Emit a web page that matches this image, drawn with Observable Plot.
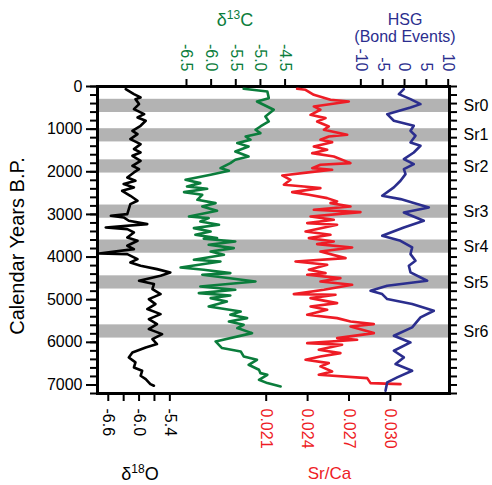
<!DOCTYPE html>
<html>
<head>
<meta charset="utf-8">
<script src="https://cdn.jsdelivr.net/npm/d3@7"></script>
<script src="https://cdn.jsdelivr.net/npm/@observablehq/plot@0.6"></script>
<style>
  html, body { margin: 0; padding: 0; background: #fff; }
  #chart { position: relative; width: 492px; height: 485px; overflow: hidden; font-family: "Liberation Sans", Arial, sans-serif; }
  #chart svg { position: absolute; left: 0; top: 0; }
</style>
</head>
<body>
<div id="chart"></div>
<script>
// ---------- data ----------
const bandNames = ["Sr0", "Sr1", "Sr2", "Sr3", "Sr4", "Sr5", "Sr6"];
const bandStart = [300, 990, 1720, 2780, 3600, 4440, 5590];
const bandEnd   = [610, 1300, 2030, 3090, 3910, 4750, 5900];

// δ18O (black)
const d18Years = [62,179,257,296,413,530,648,726,804,921,1039,1117,1234,1351,1468,1547,1625,1742,1859,1937,2016,2133,2211,2289,2367,2446,2563,2680,2758,2876,2993,3032,3071,3149,3227,3306,3345,3423,3540,3618,3735,3814,3915,3931,4048,4126,4204,4283,4361,4439,4556,4634,4752,4869,4986,5103,5220,5338,5455,5572,5690,5807,5924,6041,6120,6237,6354,6471,6589,6667,6784,6862,6979,7018];
const d18Values = [-6.26,-6.10,-5.97,-6.07,-6.00,-6.10,-5.90,-6.03,-5.87,-5.97,-6.13,-6.03,-6.17,-5.97,-6.10,-5.97,-6.13,-5.97,-6.13,-6.00,-6.10,-6.23,-6.07,-6.30,-6.10,-6.33,-6.17,-6.03,-6.17,-6.20,-6.23,-6.55,-6.30,-6.20,-5.84,-6.65,-6.23,-6.10,-6.23,-6.03,-6.23,-6.10,-6.78,-6.23,-6.03,-6.17,-5.97,-5.65,-5.39,-5.58,-6.00,-5.71,-5.74,-5.58,-5.81,-5.68,-5.84,-5.58,-5.81,-5.65,-5.81,-5.55,-5.74,-5.65,-5.87,-6.13,-6.20,-6.07,-6.10,-5.94,-5.97,-5.87,-5.78,-5.71];

// δ13C (green)
const d13Years = [54,116,273,351,546,703,820,937,1015,1094,1172,1250,1328,1406,1523,1641,1719,1797,1914,1977,2071,2188,2266,2344,2399,2477,2540,2657,2735,2813,2915,3048,3087,3165,3243,3321,3399,3478,3556,3572,3634,3712,3790,3869,3947,4064,4103,4244,4298,4377,4416,4572,4689,4767,4846,4900,4963,5041,5158,5276,5354,5432,5510,5588,5666,5784,5979,6135,6214,6331,6409,6526,6643,6722,6761,6878,6956,7034];
const d13Values = [-5.34,-4.86,-4.83,-5.07,-4.73,-4.90,-4.83,-5.00,-5.10,-5.00,-5.30,-5.20,-5.47,-5.24,-5.51,-5.24,-5.51,-5.61,-5.81,-5.64,-6.01,-6.52,-6.22,-6.49,-6.08,-6.55,-6.18,-6.28,-5.91,-6.18,-5.88,-6.45,-6.05,-6.22,-5.84,-6.35,-6.01,-6.32,-5.88,-6.15,-5.51,-6.05,-5.54,-6.01,-5.74,-6.35,-5.81,-6.62,-6.15,-5.61,-6.18,-5.10,-6.22,-5.51,-6.25,-5.61,-6.01,-5.68,-6.05,-5.40,-5.61,-5.27,-5.64,-5.34,-5.47,-5.17,-5.91,-5.78,-5.40,-5.34,-5.07,-5.24,-5.03,-5.00,-4.86,-5.03,-4.86,-4.59];

// Sr/Ca (red)
const srYears = [54,77,195,312,351,468,546,664,742,820,937,1015,1133,1172,1250,1305,1406,1484,1563,1641,1797,1836,1914,1953,2008,2086,2188,2305,2344,2383,2477,2540,2618,2696,2735,2813,2891,2946,3048,3126,3204,3243,3399,3478,3556,3634,3697,3775,3869,4025,4103,4181,4298,4377,4416,4494,4572,4650,4767,4869,4885,4963,5080,5158,5236,5354,5432,5510,5573,5627,5784,5901,5940,6018,6057,6174,6253,6331,6409,6487,6565,6683,6761,6839,6956,6980];
const srValues = [0.02324,0.02385,0.02445,0.02566,0.02699,0.02445,0.02493,0.02421,0.02530,0.02469,0.02554,0.02518,0.02687,0.02554,0.02493,0.02578,0.02445,0.02542,0.02433,0.02590,0.02711,0.02493,0.02433,0.02578,0.02421,0.02216,0.02276,0.02228,0.02373,0.02493,0.02288,0.02409,0.02542,0.02614,0.02566,0.02711,0.02445,0.02783,0.02421,0.02590,0.02397,0.02614,0.02385,0.02566,0.02409,0.02590,0.02469,0.02723,0.02493,0.02675,0.02312,0.02542,0.02409,0.02530,0.02397,0.02638,0.02493,0.02723,0.02518,0.02300,0.02602,0.02421,0.02614,0.02421,0.02542,0.02397,0.02614,0.02711,0.02880,0.02711,0.02880,0.02614,0.02759,0.02397,0.02650,0.02481,0.02638,0.02493,0.02385,0.02554,0.02493,0.02578,0.02481,0.02832,0.02856,0.03073];

// HSG Bond events (blue)
const hsgYears = [62,179,296,413,491,648,804,921,1039,1156,1312,1390,1547,1703,1820,1937,2055,2211,2367,2563,2641,2719,2836,2954,3149,3306,3501,3618,3775,3931,4087,4204,4361,4556,4673,4791,4869,4986,5103,5260,5416,5650,5846,6002,6198,6354,6510,6667,6823,6940,7135];
const hsgValues = [-0.15,-1.30,1.37,3.66,1.37,-3.97,-2.44,2.13,1.37,2.52,1.37,3.66,2.13,-0.15,2.13,-0.15,0.23,-0.92,-2.44,-5.11,-0.92,1.75,5.57,-0.15,4.42,-0.15,-5.11,-0.92,1.75,1.37,2.52,0.99,1.37,5.19,-3.97,-7.78,-5.11,-3.97,1.75,6.71,3.66,1.75,-2.44,1.37,-2.44,-0.15,-2.06,1.75,-1.68,-3.97,-4.35];

// tick values
const yearMajor = [0,1000,2000,3000,4000,5000,6000,7000];
const yearMinor = d3.range(0, 7201, 200);
const d18Ticks = [-6.6,-6.3,-6.0,-5.7,-5.4];
const d18Labels = [-6.6,-6.0,-5.4];
const d13Ticks = [-6.5,-6.0,-5.5,-5.0,-4.5];
const srTicks = [0.021,0.024,0.027,0.030];
const hsgTicks = [-10,-5,0,5,10];

// ---------- build ----------
const zip = (ys, vs) => ys.map((y, i) => ({year: y, value: vs[i]}));
const bands = bandNames.map((n, i) => ({name: n, s: bandStart[i], e: bandEnd[i]}));

const GREEN = "#0b7d3c", RED = "#ee1c25", BLUE = "#2b2e8e", GRAY = "#b3b3b3";
const FONT = "'Liberation Sans', Arial, Helvetica, sans-serif";
const LW = 2.6;

const common = {
  width: 492, height: 485,
  marginLeft: 97, marginRight: 43, marginTop: 86, marginBottom: 92,
  y: {domain: [0, 7200], reverse: true, axis: null},
  style: {fontFamily: FONT, background: "transparent", overflow: "visible", fontSize: "16px"}
};

const base = Plot.plot({
  ...common,
  x: {domain: [-6.81, 0.05]},
  marks: [
    Plot.rect(bands, {y1: "s", y2: "e", fill: GRAY}),
    Plot.line(zip(d18Years, d18Values), {x: "value", y: "year", stroke: "black", strokeWidth: LW}),
    Plot.axisY({ticks: yearMajor, tickSize: 11, tickPadding: 4, tickFormat: "d", strokeWidth: 2, fontSize: 16, label: null}),
    Plot.axisY({ticks: yearMinor, tickSize: 7, fill: "none", strokeWidth: 2, label: null}),
    Plot.axisY({anchor: "right", ticks: yearMinor, tickSize: 7, fill: "none", strokeWidth: 2, label: null}),
    Plot.text(bands, {y: d => (d.s + d.e) / 2, text: "name", frameAnchor: "right", dx: 14, textAnchor: "start", fontSize: 16, fill: "black"}),
    Plot.axisX({anchor: "bottom", ticks: d18Ticks, tickSize: 8, fill: "none", strokeWidth: 2, label: null}),
    Plot.axisX({anchor: "bottom", ticks: d18Labels, tickSize: 8, tickPadding: 7, stroke: "none", tickRotate: 90, textAnchor: "start",
      tickFormat: d => d.toFixed(1), fontSize: 16, fill: "black", label: null}),
    Plot.frame({stroke: "black", strokeWidth: 3})
  ]
});

const green = Plot.plot({
  ...common,
  x: {domain: [-8.305, -1.165]},
  marks: [
    Plot.line(zip(d13Years, d13Values), {x: "value", y: "year", stroke: GREEN, strokeWidth: LW}),
    Plot.axisX({anchor: "top", ticks: d13Ticks, tickSize: 8, fill: "none", strokeWidth: 2, label: null}),
    Plot.axisX({anchor: "top", ticks: d13Ticks, tickSize: 8, tickPadding: 7, stroke: "none", tickRotate: 90, textAnchor: "end",
      tickFormat: d => d.toFixed(1), fontSize: 16, fill: GREEN, label: null})
  ]
});

const red = Plot.plot({
  ...common,
  x: {domain: [0.008775, 0.034283]},
  marks: [
    Plot.line(zip(srYears, srValues), {x: "value", y: "year", stroke: RED, strokeWidth: LW}),
    Plot.axisX({anchor: "bottom", ticks: srTicks, tickSize: 8, fill: "none", strokeWidth: 2, label: null}),
    Plot.axisX({anchor: "bottom", ticks: srTicks, tickSize: 8, tickPadding: 7, stroke: "none", tickRotate: 90, textAnchor: "start",
      tickFormat: d3.format(".3f"), fontSize: 16, fill: RED, label: null})
  ]
});

const blue = Plot.plot({
  ...common,
  x: {domain: [-70.3, 10.3]},
  marks: [
    Plot.line(zip(hsgYears, hsgValues), {x: "value", y: "year", stroke: BLUE, strokeWidth: LW}),
    Plot.axisX({anchor: "top", ticks: hsgTicks, tickSize: 8, fill: "none", strokeWidth: 2, label: null}),
    Plot.axisX({anchor: "top", ticks: hsgTicks, tickSize: 8, tickPadding: 7, stroke: "none", tickRotate: 90, textAnchor: "end",
      tickFormat: d => String(d), fontSize: 16, fill: BLUE, label: null})
  ]
});

const chart = document.getElementById("chart");
[base, green, red, blue].forEach(p => chart.appendChild(p));

// titles
const NS = "http://www.w3.org/2000/svg";
const t = document.createElementNS(NS, "svg");
t.setAttribute("width", 492); t.setAttribute("height", 485);
t.style.fontFamily = FONT;
t.innerHTML = `
  <text x="235" y="26" text-anchor="middle" fill="${GREEN}" font-size="18">δ<tspan dy="-7" font-size="12">13</tspan><tspan dy="7">C</tspan></text>
  <text x="405" y="24.5" text-anchor="middle" fill="${BLUE}" font-size="16">HSG</text>
  <text x="405" y="41.5" text-anchor="middle" fill="${BLUE}" font-size="16">(Bond Events)</text>
  <text x="140" y="480" text-anchor="middle" fill="black" font-size="18">δ<tspan dy="-7" font-size="12">18</tspan><tspan dy="7">O</tspan></text>
  <text x="329.5" y="479" text-anchor="middle" fill="${RED}" font-size="17">Sr/Ca</text>
  <text transform="translate(24,246) rotate(-90)" text-anchor="middle" fill="black" font-size="20">Calendar Years B.P.</text>
`;
chart.appendChild(t);
</script>
</body>
</html>
